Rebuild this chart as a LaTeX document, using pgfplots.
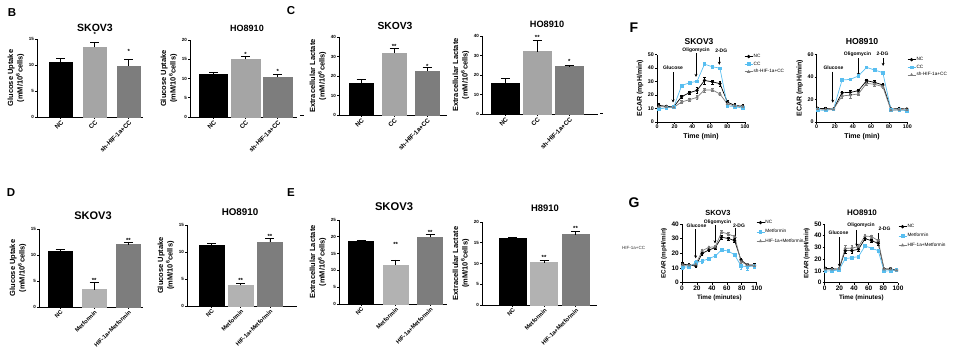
\documentclass[border=0pt]{standalone}
\usepackage{fontspec}
\setmainfont{Liberation Sans}
\usepackage{pgfplots}
\pgfplotsset{compat=1.18}
\usetikzlibrary{arrows.meta}
\definecolor{cblue}{RGB}{88,190,240}
\definecolor{lgray}{RGB}{165,165,165}
\definecolor{mgray}{RGB}{178,178,178}
\definecolor{dgray}{RGB}{125,125,125}
\definecolor{lngray}{RGB}{125,125,125}
\pgfplotsset{
 gpbase/.style={scale only axis, clip=false, axis x line*=bottom, axis y line*=left,
   axis line style={-, line width=0.8pt}, tick align=outside, major tick length=2pt,
   every tick/.style={black, line width=0.6pt},
   /pgf/number format/assume math mode=true, anchor=south west},
 gpbar/.style={gpbase, ymin=0, xtick={0,1,2}, ybar, bar shift=0pt,
   yticklabel style={font=\fontsize{4.5}{5}\selectfont\bfseries, inner sep=1pt},
   xticklabel style={rotate=45, anchor=north east, inner sep=0.5pt, font=\fontsize{6.3}{7}\selectfont\bfseries},
   ylabel style={align=center, font=\fontsize{7.5}{9.5}\selectfont\bfseries},
   error bars/y dir=plus, error bars/y explicit,
   error bars/error bar style={black, line width=0.6pt},
   error bars/error mark options={black, rotate=90, mark size=4.5pt, line width=0.6pt}},
 gpline/.style={gpbase, xmin=0, xmax=100, ymin=0, xtick={0,20,...,100},
   legend style={draw=none, fill=none, anchor=north west, font=\fontsize{4.7}{5}\selectfont,
     inner sep=0pt, row sep=1.6pt, nodes={inner sep=0.6pt}},
   legend cell align=left,
   legend image code/.code={\draw[mark repeat=2,mark phase=2,##1] plot coordinates {(0pt,0pt) (4pt,0pt) (8pt,0pt)};}},
 pl/.style={line width=0.7pt, mark size=1.3pt,
   error bars/y dir=both, error bars/y explicit,
   error bars/error bar style={line width=0.5pt},
   error bars/error mark options={rotate=90, mark size=1.3pt, line width=0.5pt}},
}
\tikzset{
 plab/.style={font=\fontsize{11.5}{12}\selectfont\bfseries, inner sep=0pt},
 plabb/.style={font=\fontsize{14}{14}\selectfont\bfseries, inner sep=0pt},
 star/.style={font=\fontsize{6}{6}\selectfont\bfseries, inner sep=0pt, yshift=-1.3pt},
 ann/.style={font=\fontsize{5}{5}\selectfont\bfseries, inner sep=0pt},
 arr/.style={-{Stealth[length=3pt,width=3pt]}, line width=0.6pt},
}
\newcommand{\ttl}[4]{\node[font=\fontsize{#3}{#3}\selectfont\bfseries, inner sep=0pt] at (#1pt,-#2pt) {#4};}
\begin{document}
\begin{tikzpicture}
\path[use as bounding box] (0,0) rectangle (954pt,-363pt);
% panel letters
\node[plab] at (12pt,-13pt) {B};
\node[plab] at (291pt,-11pt) {C};
\node[plab] at (11pt,-193pt) {D};
\node[plab] at (291pt,-193pt) {E};
\node[plabb] at (634pt,-28pt) {F};
\node[plabb] at (634pt,-203pt) {G};
% titles
\ttl{95}{28}{10.5}{SKOV3}
\ttl{247}{28}{9}{HO8910}
\ttl{395}{26}{10.3}{SKOV3}
\ttl{547}{24}{9.2}{HO8910}
\ttl{699}{42}{8.5}{SKOV3}
\ttl{862}{42}{8.7}{HO8910}
\ttl{93}{216}{11}{SKOV3}
\ttl{240}{212}{9.8}{HO8910}
\ttl{394}{207}{11.2}{SKOV3}
\ttl{545}{208}{9.4}{H8910}
\ttl{718}{213}{7.4}{SKOV3}
\ttl{862}{213}{8}{HO8910}
\node[font=\fontsize{4.5}{5}\selectfont, inner sep=0pt, anchor=west, text=black!80] at (622pt,-248pt) {HIF-1a+CC};
\draw[line width=0.8pt] (300pt,-115pt) -- (304pt,-115pt);
\draw[line width=0.8pt] (600pt,-113pt) -- (603pt,-113pt);

% ---------- B1
\begin{axis}[gpbar, at={(37pt,-117pt)}, width=106pt, height=78pt, xmin=-0.7, xmax=2.42, ymax=15,
  ytick={0,5,10,15}, xticklabels={NC,CC,sh-HIF-1a+CC}, bar width=0.68,
  ylabel={Glucose Uptake\\(mM/10\textsuperscript{6}cells)}]
\addplot[fill=black, draw=black] coordinates {(0,10.6) +- (0,0.7)};
\addplot[fill=lgray, draw=lgray] coordinates {(1,13.4) +- (0,0.9)};
\addplot[fill=dgray, draw=dgray] coordinates {(2,9.8) +- (0,1.3)};
\node[star] at (axis cs:1,16.2) {*};
\node[star] at (axis cs:2,12.8) {*};
\end{axis}
% ---------- B2
\begin{axis}[gpbar, at={(190pt,-117pt)}, width=107pt, height=77pt, xmin=-0.73, xmax=2.6, ymax=20,
  ytick={0,5,10,15,20}, xticklabels={NC,CC,sh-HIF-1a+CC}, bar width=0.88,
  ylabel={Glucose Uptake\\(mM/10\textsuperscript{6}cells)}]
\addplot[fill=black, draw=black] coordinates {(0,11.1) +- (0,0.55)};
\addplot[fill=lgray, draw=lgray] coordinates {(1,15.0) +- (0,0.65)};
\addplot[fill=dgray, draw=dgray] coordinates {(2,10.4) +- (0,0.7)};
\node[star] at (axis cs:1,16.7) {*};
\node[star] at (axis cs:2,12.2) {*};
\end{axis}
% ---------- C1
\begin{axis}[gpbar, at={(339pt,-115pt)}, width=108pt, height=78pt, xmin=-0.67, xmax=2.6, ymax=40,
  ytick={0,10,20,30,40}, xticklabels={NC,CC,sh-HIF-1a+CC}, bar width=0.73,
  ylabel={Extracellular Lactate\\(mM/10\textsuperscript{6}cells)}]
\addplot[fill=black, draw=black] coordinates {(0,16.2) +- (0,2.0)};
\addplot[fill=lgray, draw=lgray] coordinates {(1,31.8) +- (0,2.2)};
\addplot[fill=dgray, draw=dgray] coordinates {(2,22.6) +- (0,1.7)};
\node[star] at (axis cs:1,35.7) {**};
\node[star] at (axis cs:2,25.5) {*};
\end{axis}
% ---------- C2
\begin{axis}[gpbar, at={(482pt,-114pt)}, width=116pt, height=78pt, xmin=-0.73, xmax=2.9, ymax=40,
  ytick={0,10,20,30,40}, xticklabels={NC,CC,sh-HIF-1a+CC}, bar width=0.88,
  ylabel={Extracellular Lactate\\(mM/10\textsuperscript{6}cells)}]
\addplot[fill=black, draw=black] coordinates {(0,15.7) +- (0,2.4)};
\addplot[fill=lgray, draw=lgray] coordinates {(1,32.0) +- (0,5.6)};
\addplot[fill=dgray, draw=dgray] coordinates {(2,24.3) +- (0,0.8)};
\node[star] at (axis cs:1,39.7) {**};
\node[star] at (axis cs:2,27.4) {*};
\end{axis}
% ---------- D1
\begin{axis}[gpbar, at={(39pt,-307pt)}, width=104pt, height=78pt, xmin=-0.62, xmax=2.43, ymax=15,
  ytick={0,5,10,15}, xticklabels={NC,Metformin,HIF-1a+Metformin}, bar width=0.72,
  xticklabel style={font=\fontsize{5.8}{6}\selectfont\bfseries},
  ylabel={Glucose Uptake\\(mM/10\textsuperscript{6}cells)}]
\addplot[fill=black, draw=black] coordinates {(0,10.7) +- (0,0.45)};
\addplot[fill=mgray, draw=mgray] coordinates {(1,3.35) +- (0,1.4)};
\addplot[fill=dgray, draw=dgray] coordinates {(2,12.0) +- (0,0.5)};
\node[star] at (axis cs:1,5.45) {**};
\node[star] at (axis cs:2,13.1) {**};
\end{axis}
% ---------- D2
\begin{axis}[gpbar, at={(187pt,-306pt)}, width=110pt, height=81pt, xmin=-0.84, xmax=2.93, ymax=15,
  ytick={0,5,10,15}, xticklabels={NC,Metformin,HIF-1a+Metformin}, bar width=0.85,
  xticklabel style={font=\fontsize{5.8}{6}\selectfont\bfseries},
  ylabel={Glucose Uptake\\(mM/10\textsuperscript{6}cells)}]
\addplot[fill=black, draw=black] coordinates {(0,11.2) +- (0,0.4)};
\addplot[fill=mgray, draw=mgray] coordinates {(1,3.83) +- (0,0.4)};
\addplot[fill=dgray, draw=dgray] coordinates {(2,11.85) +- (0,0.65)};
\node[star] at (axis cs:1,5.0) {**};
\node[star] at (axis cs:2,13.1) {**};
\end{axis}
% ---------- E1
\begin{axis}[gpbar, at={(339pt,-304pt)}, width=108pt, height=84pt, xmin=-0.64, xmax=2.49, ymax=25,
  ytick={0,5,10,15,20,25}, xticklabels={NC,Metformin,HIF-1a+Metformin}, bar width=0.72,
  xticklabel style={font=\fontsize{5.8}{6}\selectfont\bfseries},
  ylabel={Extracellular Lactate\\(mM/10\textsuperscript{6}cells)}]
\addplot[fill=black, draw=black] coordinates {(0,18.55) +- (0,0.4)};
\addplot[fill=mgray, draw=mgray] coordinates {(1,11.6) +- (0,1.5)};
\addplot[fill=dgray, draw=dgray] coordinates {(2,19.8) +- (0,0.9)};
\node[star] at (axis cs:1,18.05) {**};
\node[star] at (axis cs:2,21.8) {**};
\end{axis}
% ---------- E2
\begin{axis}[gpbar, at={(482pt,-305pt)}, width=115pt, height=83pt, xmin=-0.97, xmax=2.68, ymax=20,
  ytick={0,5,10,15,20}, xticklabels={NC,Metformin,HIF-1a+Metformin}, bar width=0.85,
  xticklabel style={font=\fontsize{5.8}{6}\selectfont\bfseries},
  ylabel={Extracellular Lactate\\(mM/10\textsuperscript{6}cells)}]
\addplot[fill=black, draw=black] coordinates {(0,16.0) +- (0,0.25)};
\addplot[fill=mgray, draw=mgray] coordinates {(1,10.24) +- (0,0.56)};
\addplot[fill=dgray, draw=dgray] coordinates {(2,16.96) +- (0,0.8)};
\node[star] at (axis cs:1,11.76) {**};
\node[star] at (axis cs:2,18.8) {**};
\end{axis}

% ---------- F1
\begin{axis}[gpline, at={(657pt,-122pt)}, width=88pt, height=67.3pt, ymax=50, ytick={0,10,...,50},
  ticklabel style={font=\fontsize{5.3}{6}\selectfont\bfseries, inner sep=1pt},
  label style={font=\fontsize{7}{8}\selectfont\bfseries},
  xlabel={Time (min)}, ylabel={ECAR (mpH/min)},
  legend style={at={(0.99,1.02)}}]
\addplot[pl, black, mark=*] coordinates {(2,12.4) +- (0,1.5) (10.5,11.6) +- (0,0.8) (19,11.3) +- (0,1.2) (28,18.8) +- (0,1) (37,21.8) +- (0,1.3) (45.5,23.5) +- (0,2) (54,30.9) +- (0,2.5) (63,29.8) +- (0,1.5) (71.5,28.5) +- (0,1.8) (80,14.8) +- (0,1.5) (88.5,12.2) +- (0,2) (97.5,11.8) +- (0,1.5)};
\addlegendentry{NC}
\addplot[pl, cblue, mark=square*] coordinates {(2,9.6) +- (0,1) (10.5,10.6) +- (0,0.8) (19,11.1) +- (0,0.8) (28,27) +- (0,0.8) (37,29.2) +- (0,0.8) (45.5,30.2) +- (0,0.8) (54,43) +- (0,0.8) (63,41) +- (0,0.8) (71.5,40) +- (0,0.8) (80,12) +- (0,0.8) (88.5,11.4) +- (0,0.8) (97.5,10.3) +- (0,0.8)};
\addlegendentry{CC}
\addplot[pl, lngray, mark=triangle*] coordinates {(2,11.4) +- (0,1) (10.5,11.2) +- (0,1) (19,10.9) +- (0,1) (28,14.9) +- (0,1) (37,16.6) +- (0,1) (45.5,18.3) +- (0,1.5) (54,23.8) +- (0,1.5) (63,23.8) +- (0,1.2) (71.5,20.8) +- (0,1.2) (80,13.4) +- (0,1.2) (88.5,11.9) +- (0,1) (97.5,11.4) +- (0,1)};
\addlegendentry{sh-HIF-1a+CC}
\node[ann] at (axis cs:18.2,40.1) {Glucose};
\draw[arr] (axis cs:18.2,37) -- (axis cs:18.2,14.5);
\node[ann] at (axis cs:44.3,53) {Oligomycin};
\draw[arr] (axis cs:44.3,51) -- (axis cs:44.3,33.5);
\node[ann] at (axis cs:73,53) {2-DG};
\draw[arr] (axis cs:70.8,48.5) -- (axis cs:70.8,42.5);
\end{axis}
% ---------- F2
\begin{axis}[gpline, at={(816.7pt,-122pt)}, width=90.6pt, height=67.3pt, ymax=60, ytick={0,20,40,60},
  ticklabel style={font=\fontsize{5.3}{6}\selectfont\bfseries, inner sep=1pt},
  label style={font=\fontsize{7}{8}\selectfont\bfseries},
  xlabel={Time (min)}, ylabel={ECAR (mpH/min)},
  legend style={at={(0.997,0.973)}}]
\addplot[pl, black, mark=*] coordinates {(1,12.2) +- (0,1) (10,11.9) +- (0,1) (18.5,11.6) +- (0,1) (28,26.1) +- (0,1.5) (37,26.4) +- (0,2) (46,27.9) +- (0,1.5) (55,36.8) +- (0,1.5) (64,35.3) +- (0,1.5) (73,33) +- (0,1.2) (82,11.6) +- (0,1) (91,11.9) +- (0,1) (99.5,11.6) +- (0,1)};
\addlegendentry{NC}
\addplot[pl, cblue, mark=square*] coordinates {(1,10.7) +- (0,1) (10,10.4) +- (0,1) (18.5,11.3) +- (0,1) (28,37.4) +- (0,1) (37,38) +- (0,1) (46,41) +- (0,1) (55,48.7) +- (0,1) (64,46.3) +- (0,1) (73,44) +- (0,1.2) (82,10.7) +- (0,1) (91,10.7) +- (0,1) (99.5,10.1) +- (0,1)};
\addlegendentry{CC}
\addplot[pl, lngray, mark=triangle*] coordinates {(1,11.6) +- (0,1) (10,11.3) +- (0,1) (18.5,11.3) +- (0,1) (28,23.2) +- (0,2) (37,24) +- (0,2.5) (46,25) +- (0,1.5) (55,34.5) +- (0,1.5) (64,33.6) +- (0,1.5) (73,31.5) +- (0,1.5) (82,10.4) +- (0,1) (91,11) +- (0,1) (99.5,10.7) +- (0,1)};
\addlegendentry{sh-HIF-1a+CC}
\node[ann] at (axis cs:18.5,48.1) {Glucose};
\draw[arr] (axis cs:17.7,44.8) -- (axis cs:17.7,17.2);
\node[ann] at (axis cs:45,60.6) {Oligomycin};
\draw[arr] (axis cs:46,56.8) -- (axis cs:46,41);
\node[ann] at (axis cs:72.6,60.6) {2-DG};
\draw[arr] (axis cs:73.3,56.8) -- (axis cs:73.3,50);
\end{axis}
% ---------- G1
\begin{axis}[gpline, at={(682pt,-282.7pt)}, width=74.7pt, height=58.7pt, ymax=40, ytick={0,10,...,40},
  ticklabel style={font=\fontsize{6.5}{7}\selectfont\bfseries, inner sep=1pt},
  label style={font=\fontsize{6.3}{7}\selectfont\bfseries},
  xlabel={Time (minutes)}, ylabel={ECAR (mpH/min)},
  legend style={at={(0.99,1.077)}, row sep=3.2pt}]
\addplot[pl, black, mark=*] coordinates {(1,12.7) +- (0,1) (9.5,12) +- (0,1) (18.5,11.4) +- (0,1) (27,20) +- (0,1) (36,22.3) +- (0,1) (44.5,23.9) +- (0,1.2) (53,30.9) +- (0,1.2) (62,30.2) +- (0,1) (70.5,28.6) +- (0,1) (79,15.5) +- (0,1) (87.5,12) +- (0,1) (97,12) +- (0,1)};
\addlegendentry{NC}
\addplot[pl, cblue, mark=square*] coordinates {(1,10.5) +- (0,1.5) (9.5,10.9) +- (0,1) (18.5,13.6) +- (0,1.5) (27,14.8) +- (0,1.5) (36,16.4) +- (0,1) (44.5,18.2) +- (0,1) (53,22.3) +- (0,1.2) (62,21.6) +- (0,1) (70.5,18.9) +- (0,1) (79,11.4) +- (0,2) (87.5,10.9) +- (0,2.5) (97,11.4) +- (0,1.5)};
\addlegendentry{Metformin}
\addplot[pl, lngray, mark=triangle*] coordinates {(1,12) +- (0,1) (9.5,11.8) +- (0,1) (18.5,12.5) +- (0,1) (27,21.8) +- (0,1) (36,24.1) +- (0,1) (44.5,24.5) +- (0,1) (53,34.5) +- (0,1) (62,33.2) +- (0,1) (70.5,31.4) +- (0,1) (79,14.3) +- (0,1) (87.5,12) +- (0,1) (97,11.4) +- (0,1)};
\addlegendentry{HIF-1a+Metformin}
\node[ann] at (axis cs:19.4,38.6) {Glucose};
\draw[arr] (axis cs:18.3,36.4) -- (axis cs:18.3,16.6);
\node[ann] at (axis cs:47.5,41.4) {Oligomycin};
\draw[arr] (axis cs:44.2,39.3) -- (axis cs:44.2,26.8);
\node[ann] at (axis cs:76.3,38.6) {2-DG};
\draw[arr] (axis cs:71,37.3) -- (axis cs:71,29);
\end{axis}
% ---------- G2
\begin{axis}[gpline, at={(824.7pt,-282.7pt)}, width=73.3pt, height=58.7pt, ymax=50, ytick={0,10,...,50},
  ticklabel style={font=\fontsize{6.5}{7}\selectfont\bfseries, inner sep=1pt},
  label style={font=\fontsize{6.3}{7}\selectfont\bfseries},
  xlabel={Time (minutes)}, ylabel={ECAR (mpH/min)},
  legend style={at={(1.0,1.008)}, row sep=3.2pt}]
\addplot[pl, black, mark=*] coordinates {(1,12.2) +- (0,1) (10,11.9) +- (0,1) (19.5,11.4) +- (0,1) (28,27.3) +- (0,2) (37,27.3) +- (0,2) (46,28.4) +- (0,2) (55,37.5) +- (0,1.5) (64,35.8) +- (0,1.5) (73,33.5) +- (0,2) (81,11.6) +- (0,1) (90,11.6) +- (0,1) (98,10.8) +- (0,1)};
\addlegendentry{NC}
\addplot[pl, cblue, mark=square*] coordinates {(1,9.9) +- (0,1) (10,10.2) +- (0,1) (19.5,10.8) +- (0,1) (28,20.5) +- (0,1.2) (37,21.3) +- (0,1.2) (46,22.2) +- (0,1.2) (55,31.3) +- (0,1.2) (64,29.3) +- (0,1.2) (73,27.3) +- (0,1.2) (81,9.9) +- (0,1) (90,10.2) +- (0,1) (98,10.8) +- (0,1)};
\addlegendentry{Metformin}
\addplot[pl, lngray, mark=triangle*] coordinates {(1,11.4) +- (0,1) (10,11.4) +- (0,1) (19.5,11.9) +- (0,1) (28,29.3) +- (0,2.5) (37,29.5) +- (0,2) (46,30.7) +- (0,2) (55,39.8) +- (0,1.5) (64,39.2) +- (0,1.5) (73,35.8) +- (0,1.5) (81,11.4) +- (0,1) (90,11.4) +- (0,2) (98,10.5) +- (0,1)};
\addlegendentry{HIF-1a+Metformin}
\node[ann] at (axis cs:18.8,42.3) {Glucose};
\draw[arr] (axis cs:20,38.7) -- (axis cs:20,13.6);
\node[ann] at (axis cs:49.5,48.6) {Oligomycin};
\draw[arr] (axis cs:43.7,44.9) -- (axis cs:43.7,30.7);
\node[ann] at (axis cs:81.6,45.7) {2-DG};
\draw[arr] (axis cs:73,42) -- (axis cs:73,33.5);
\end{axis}
\end{tikzpicture}
\end{document}
